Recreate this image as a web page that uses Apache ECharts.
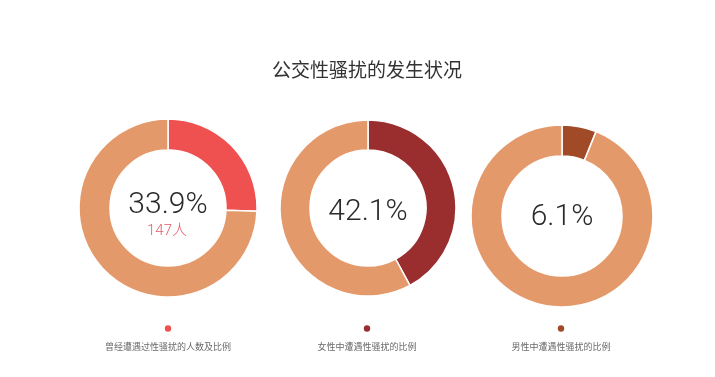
<!DOCTYPE html>
<html><head><meta charset="utf-8">
<script src="https://cdn.jsdelivr.net/npm/echarts@6/dist/echarts.min.js"></script>
<style>html,body{margin:0;padding:0;background:#fff}#c{width:715px;height:377px}</style>
</head><body><div id="c"></div>
<script>
const titleText = '公交性骚扰的发生状况';
const categories = ['曾经遭遇过性骚扰的人数及比例', '女性中遭遇性骚扰的比例', '男性中遭遇性骚扰的比例'];
const percentLabels = ['33.9%', '42.1%', '6.1%'];
// arc sizes as drawn in the picture (first arc is drawn at ~a quarter)
const arcValues = [25.6, 42.1, 6.1];
const countLabel = '147人';
const sliceColors = ['#EF5050', '#9A2E2F', '#A04A28'];
const baseColor = '#E4996B';

const centers = [[168, 208], [368, 208], [562, 216]];
const radii = [[58, 89], [58, 88], [60, 91]];

const chart = echarts.init(document.getElementById('c'), null, {renderer: 'canvas'});
const series = arcValues.map((v, i) => ({
  type: 'pie',
  center: centers[i],
  radius: radii[i],
  startAngle: 90,
  clockwise: true,
  silent: true,
  label: {show: false},
  labelLine: {show: false},
  itemStyle: {borderColor: '#fff', borderWidth: 1.5},
  data: [
    {value: v, name: categories[i], itemStyle: {color: sliceColors[i]}},
    {value: 100 - v, name: 'rest', itemStyle: {color: baseColor}}
  ]
}));

const numFont = 'Roboto, "Noto Sans CJK SC", sans-serif';
const cjkFont = '"Noto Sans CJK SC", sans-serif';
const graphics = [];
const pctY = [205, 212, 217];
percentLabels.forEach((t, i) => {
  graphics.push({type: 'text', x: centers[i][0], y: pctY[i],
    style: {text: t, fill: '#2a2a2a', font: '300 30px ' + numFont, textAlign: 'center', textVerticalAlign: 'middle'}});
});
graphics.push({type: 'text', x: centers[0][0] - 1, y: 231,
  style: {text: countLabel, fill: '#E0606A', font: '300 15px ' + numFont, textAlign: 'center', textVerticalAlign: 'middle'}});
const legendX = [168, 367, 561];
categories.forEach((c, i) => {
  graphics.push({type: 'circle', shape: {cx: legendX[i], cy: 328.5, r: 3.2}, style: {fill: sliceColors[i]}});
  graphics.push({type: 'text', x: legendX[i], y: 347,
    style: {text: c, fill: '#6a6a6a', font: '9px ' + cjkFont, textAlign: 'center', textVerticalAlign: 'middle'}});
});
graphics.push({type: 'text', x: 367, y: 70,
  style: {text: titleText, fill: '#333', font: '19px ' + cjkFont, textAlign: 'center', textVerticalAlign: 'middle'}});

chart.setOption({
  animation: false,
  backgroundColor: '#fff',
  series: series,
  graphic: graphics
});
</script></body></html>
